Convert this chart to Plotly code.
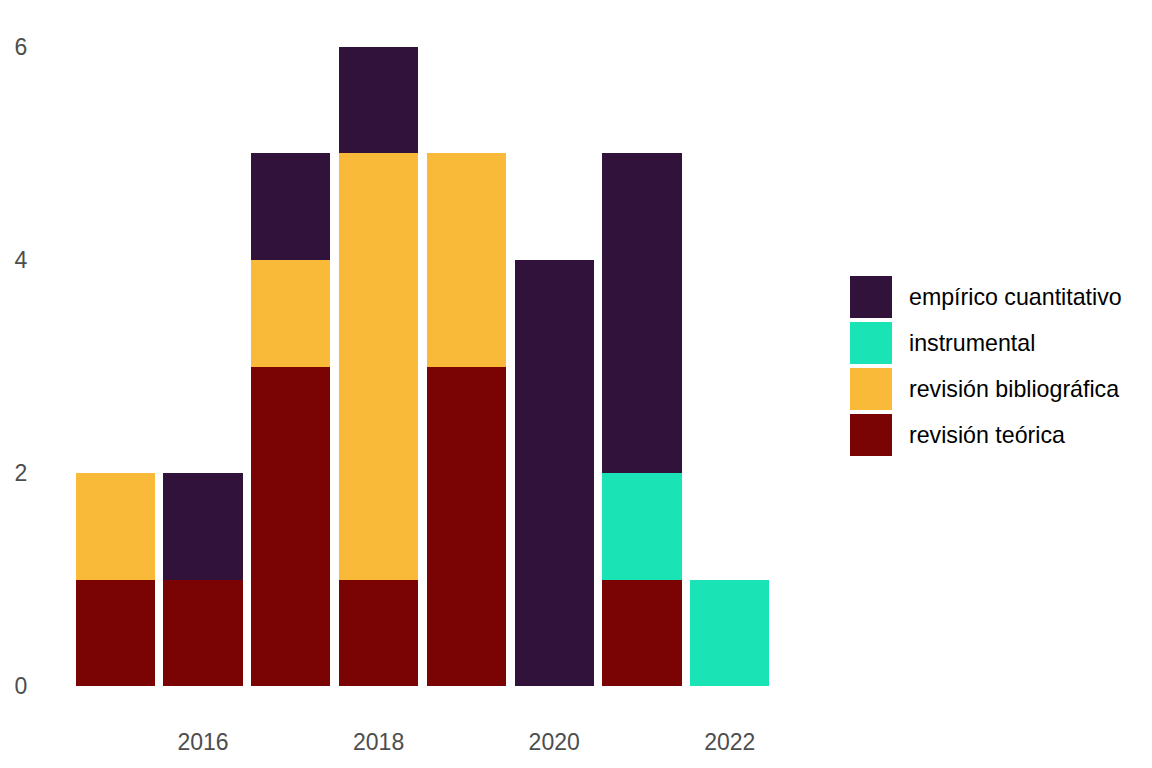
import plotly.graph_objects as go

# Data
years = [2015, 2016, 2017, 2018, 2019, 2020, 2021, 2022]
categories = ["empírico cuantitativo", "instrumental", "revisión bibliográfica", "revisión teórica"]
empirico = [0, 1, 1, 1, 0, 4, 3, 0]
instrumental = [0, 0, 0, 0, 0, 0, 1, 1]
bibliografica = [1, 0, 1, 4, 2, 0, 0, 0]
teorica = [1, 1, 3, 1, 3, 0, 1, 0]
colors = {"empírico cuantitativo": "#30123B", "instrumental": "#1AE4B6",
          "revisión bibliográfica": "#FABA39", "revisión teórica": "#7A0403"}
series = {"empírico cuantitativo": empirico, "instrumental": instrumental,
          "revisión bibliográfica": bibliografica, "revisión teórica": teorica}
y_ticks = [0, 2, 4, 6]
x_ticks = [2016, 2018, 2020, 2022]

# page body has an 8px margin; compensate so the figure lines up with the window
OFF = 8
W, H = 1152 - 2 * OFF, 768 - 2 * OFF
FONT = "Liberation Sans, Arial, sans-serif"

def fx(p):
    return (p - OFF) / W

def fy(p):
    return 1 - (p - OFF) / H

fig = go.Figure()
# stacking order: bottom first
for cat in reversed(categories):
    fig.add_trace(go.Bar(x=years, y=series[cat], name=cat, width=0.9,
                         marker=dict(color=colors[cat], line=dict(width=0)),
                         showlegend=False))

# plot area in window pixels
px_l, px_r, px_t, px_b = 41, 804, 15, 718

fig.update_layout(
    width=W, height=H, barmode="stack", bargap=0,
    margin=dict(l=0, r=0, t=0, b=0),
    paper_bgcolor="white", plot_bgcolor="white",
    font=dict(family=FONT, color="#4D4D4D", size=23),
    xaxis=dict(domain=[fx(px_l), fx(px_r)], range=[2014.155, 2022.845],
               tickvals=x_ticks, ticktext=[str(t) for t in x_ticks],
               showgrid=False, zeroline=False, showline=False,
               ticks="outside", ticklen=3, tickcolor="rgba(0,0,0,0)",
               tickfont=dict(size=23, color="#4D4D4D"), automargin=False),
    yaxis=dict(domain=[fy(px_b), fy(px_t)], range=[-0.3, 6.3],
               tickvals=y_ticks, ticktext=[str(t) for t in y_ticks],
               showgrid=False, zeroline=False, showline=False,
               ticks="outside", ticklen=8, tickcolor="rgba(0,0,0,0)",
               tickfont=dict(size=23, color="#4D4D4D"), automargin=False),
)

# custom legend (large keys as in the reference)
key_x0, key_x1 = 850, 892
row_top0, row_step, key_h = 276, 46, 42
text_x = 907
for i, cat in enumerate(categories):
    top = row_top0 + i * row_step
    fig.add_shape(type="rect", xref="paper", yref="paper",
                  x0=fx(key_x0), x1=fx(key_x1),
                  y0=fy(top + key_h), y1=fy(top),
                  fillcolor=colors[cat], line=dict(width=0))
    fig.add_annotation(xref="paper", yref="paper", x=fx(text_x),
                       y=fy(top + key_h / 2), text=cat, showarrow=False,
                       xanchor="left", yanchor="middle",
                       font=dict(family=FONT, size=23.2, color="black"))

fig.write_html("out.html")
